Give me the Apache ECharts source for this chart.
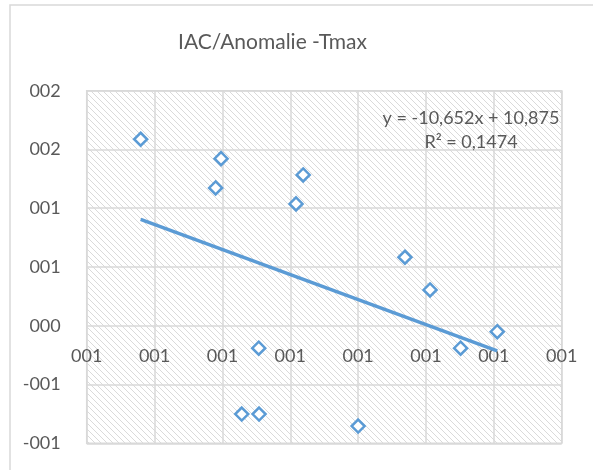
<!DOCTYPE html>
<html>
<head>
<meta charset="utf-8">
<script src="https://cdn.jsdelivr.net/npm/echarts@6/dist/echarts.min.js"></script>
<style>
html,body{margin:0;padding:0;background:#fff;}
#chart{width:593px;height:470px;}
</style>
</head>
<body>
<div id="chart"></div>
<script>
// ---- data ----
var titleText = 'IAC/Anomalie -Tmax';
var xValues = [0.9359, 0.9596, 0.9580, 0.9838, 0.9817, 1.0138, 0.9707, 0.9657, 0.9708, 1.0212, 1.0410, 1.0302, 1.0000];
var yValues = [1.587, 1.422, 1.173, 1.283, 1.037, 0.583, -0.191, -0.751, -0.751, 0.305, -0.050, -0.191, -0.853];
var trendSlope = -10.652;
var trendIntercept = 10.875;
var trendLabel = ['y = -10,652x + 10,875', 'R\u00B2 = 0,1474'];
var xMin = 0.92, xMax = 1.06, xStep = 0.02;
var yMin = -1, yMax = 2, yStep = 0.5;

function fmt000(v) {
  var r = Math.round(Math.abs(v) + 1e-9);
  var s = String(r);
  while (s.length < 3) s = '0' + s;
  return (v < 0 && r !== 0 ? '-' : '') + s;
}

var points = xValues.map(function (x, i) { return [x, yValues[i]]; });
var tx0 = Math.min.apply(null, xValues), tx1 = Math.max.apply(null, xValues);
var trend = [[tx0, trendSlope * tx0 + trendIntercept], [tx1, trendSlope * tx1 + trendIntercept]];

// hatch pattern
var P = 6;
var pc = document.createElement('canvas');
pc.width = P; pc.height = P;
var ctx = pc.getContext('2d');
ctx.fillStyle = '#ffffff';
ctx.fillRect(0, 0, P, P);
ctx.strokeStyle = '#dadada';
ctx.lineWidth = 1;
ctx.beginPath();
ctx.moveTo(-1, -1); ctx.lineTo(P + 1, P + 1);
ctx.moveTo(-1, P - 1); ctx.lineTo(1, P + 1);
ctx.moveTo(P - 1, -1); ctx.lineTo(P + 1, 1);
ctx.stroke();

var font = 'Lato, "Liberation Sans", sans-serif';
var chart = echarts.init(document.getElementById('chart'), null, {renderer: 'canvas'});
var option = {
  animation: false,
  backgroundColor: '#ffffff',
  grid: {
    left: 86.7, right: 31.3, top: 90.7, bottom: 26.7,
    show: true,
    backgroundColor: {image: pc, repeat: 'repeat'},
    borderColor: '#d9d9d9', borderWidth: 1.5
  },
  graphic: [
    {type: 'rect', shape: {x: 10, y: 5, width: 640, height: 520}, style: {fill: 'none', stroke: '#d9d9d9', lineWidth: 1.5}, silent: true, z: -1},
    {type: 'text', x: 272.5, y: 42, style: {text: titleText, align: 'center', verticalAlign: 'middle', font: '21px ' + font, fill: '#595959'}},
    {type: 'text', x: 471, y: 118, style: {text: trendLabel[0], align: 'center', verticalAlign: 'middle', font: '18px ' + font, fill: '#595959'}, z: 10},
    {type: 'text', x: 471, y: 142, style: {text: trendLabel[1], align: 'center', verticalAlign: 'middle', font: '18px ' + font, fill: '#595959'}, z: 10}
  ],
  xAxis: {
    type: 'value', min: xMin, max: xMax, interval: xStep,
    axisLine: {show: false, onZero: false},
    axisTick: {show: false},
    splitLine: {show: true, lineStyle: {color: '#d9d9d9', width: 1.5}},
    axisLabel: {formatter: fmt000, color: '#595959', fontSize: 18, fontFamily: font, margin: 18}
  },
  yAxis: {
    type: 'value', min: yMin, max: yMax, interval: yStep,
    axisLine: {show: false},
    axisTick: {show: false},
    splitLine: {show: true, lineStyle: {color: '#d9d9d9', width: 1.5}},
    axisLabel: {formatter: fmt000, color: '#595959', fontSize: 18, fontFamily: font, margin: 26}
  },
  series: [
    {
      type: 'line', data: trend, symbol: 'none', silent: true,
      lineStyle: {color: '#5b9bd5', width: 3.5}, z: 2
    },
    {
      type: 'scatter', data: points, symbol: 'diamond', symbolSize: [13, 13],
      itemStyle: {color: '#ffffff', borderColor: '#5b9bd5', borderWidth: 2.5, opacity: 1}, z: 3
    }
  ]
};
chart.setOption(option);
// place the horizontal axis where it crosses y = 0 (as in the source chart)
var yZeroPx = chart.convertToPixel({yAxisIndex: 0}, 0);
var yBottomPx = chart.convertToPixel({yAxisIndex: 0}, yMin);
chart.setOption({xAxis: {offset: -(yBottomPx - yZeroPx)}});
</script>
</body>
</html>
